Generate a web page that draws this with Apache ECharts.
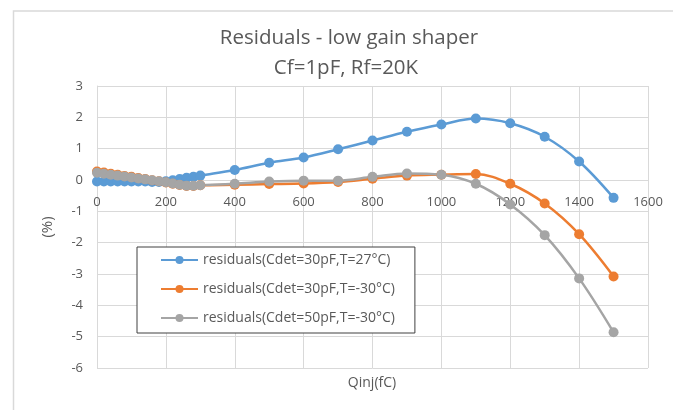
<!DOCTYPE html>
<html>
<head>
<meta charset="utf-8">
<script src="https://cdn.jsdelivr.net/npm/echarts@6/dist/echarts.min.js"></script>
<style>
  html, body { margin: 0; padding: 0; background: #fff; }
  #chart { width: 673px; height: 410px; }
</style>
</head>
<body>
<div id="chart"></div>
<script>
// Injected charge (fC)
const qinj = [0, 20, 40, 60, 80, 100, 120, 140, 160, 180, 200, 220, 240, 260, 280, 300,
              400, 500, 600, 700, 800, 900, 1000, 1100, 1200, 1300, 1400, 1500];

// Residuals (%)
const cdet30T27 = [-0.05, -0.05, -0.05, -0.05, -0.05, -0.05, -0.05, -0.05, -0.06, -0.06, -0.04, -0.01, 0.03, 0.07, 0.10, 0.14,
                   0.32, 0.55, 0.72, 0.98, 1.26, 1.54, 1.77, 1.96, 1.81, 1.38, 0.59, -0.57];
const cdet30Tm30 = [0.27, 0.24, 0.20, 0.17, 0.13, 0.10, 0.06, 0.03, -0.01, -0.04, -0.08, -0.12, -0.16, -0.19, -0.19, -0.17,
                    -0.15, -0.13, -0.11, -0.06, 0.04, 0.14, 0.17, 0.19, -0.12, -0.75, -1.73, -3.08];
const cdet50Tm30 = [0.23, 0.20, 0.17, 0.14, 0.11, 0.08, 0.05, 0.02, -0.01, -0.04, -0.07, -0.11, -0.15, -0.18, -0.18, -0.17,
                    -0.12, -0.05, -0.02, -0.02, 0.10, 0.21, 0.17, -0.12, -0.78, -1.76, -3.14, -4.86];

const seriesNames = [
  'residuals(Cdet=30pF,T=27°C)',
  'residuals(Cdet=30pF,T=-30°C)',
  'residuals(Cdet=50pF,T=-30°C)'
];
const seriesColors = ['#5B9BD5', '#ED7D31', '#A5A5A5'];
const seriesValues = [cdet30T27, cdet30Tm30, cdet50Tm30];

const xTicks = { min: 0, max: 1600, interval: 200 };
const yTicks = { min: -6, max: 3, interval: 1 };

const font = '"Open Sans", "Noto Sans", sans-serif';
const textColor = '#595959';
const gridColor = '#D9D9D9';

const W = 673, H = 410;
const grid = { left: 97, right: 25, top: 86, bottom: 42 };
// the x axis sits on the y = 0 line: shift it up from the bottom edge of the plot
const plotHeight = H - grid.top - grid.bottom;
const xAxisOffset = -plotHeight * (0 - yTicks.min) / (yTicks.max - yTicks.min);

const chart = echarts.init(document.getElementById('chart'), null, { renderer: 'canvas' });

chart.setOption({
  backgroundColor: '#fff',
  animation: false,
  textStyle: { fontFamily: font },
  graphic: [
    // chart area frame
    {
      type: 'polyline',
      shape: { points: [[13.5, H], [13.5, 11], [W, 11]] },
      style: { stroke: gridColor, lineWidth: 1.5, fill: null },
      silent: true
    },
    {
      type: 'text',
      x: 349, y: 38,
      style: {
        text: 'Residuals - low gain shaper',
        fill: textColor, font: '20.5px ' + font,
        textAlign: 'center', textVerticalAlign: 'middle'
      }
    },
    {
      type: 'text',
      x: 346, y: 68,
      style: {
        text: 'Cf=1pF, Rf=20K',
        fill: textColor, font: '20.5px ' + font,
        textAlign: 'center', textVerticalAlign: 'middle'
      }
    },
    {
      type: 'text',
      x: 372, y: 383,
      style: {
        text: 'Qinj(fC)',
        fill: textColor, font: '14px ' + font,
        textAlign: 'center', textVerticalAlign: 'middle'
      }
    }
  ],
  grid: { left: grid.left, right: grid.right, top: grid.top, bottom: grid.bottom, containLabel: false },
  legend: {
    orient: 'vertical',
    left: 137, top: 247,
    width: 282,
    padding: [6, 20, 8, 23],
    itemWidth: 37, itemHeight: 10, itemGap: 15,
    backgroundColor: '#fff',
    borderColor: '#404040', borderWidth: 1,
    textStyle: { color: textColor, fontSize: 14, fontFamily: font },
    data: seriesNames
  },
  xAxis: {
    type: 'value',
    position: 'bottom',
    offset: xAxisOffset,
    min: xTicks.min, max: xTicks.max, interval: xTicks.interval,
    axisLine: { show: true, onZero: false, lineStyle: { color: gridColor, width: 1 } },
    axisTick: { show: false },
    axisLabel: { color: textColor, fontSize: 13, margin: 16, fontFamily: font, formatter: v => String(v) },
    splitLine: { show: true, lineStyle: { color: gridColor, width: 1 } }
  },
  yAxis: {
    type: 'value',
    min: yTicks.min, max: yTicks.max, interval: yTicks.interval,
    name: '(%)',
    nameLocation: 'middle',
    nameGap: 42,
    nameRotate: 90,
    nameTextStyle: { color: textColor, fontSize: 15, fontFamily: font },
    axisLine: { show: true, onZero: false, lineStyle: { color: gridColor, width: 1 } },
    axisTick: { show: false },
    axisLabel: { color: textColor, fontSize: 13, margin: 14, fontFamily: font },
    splitLine: { show: true, lineStyle: { color: gridColor, width: 1 } }
  },
  series: seriesValues.map((vals, i) => ({
    name: seriesNames[i],
    type: 'line',
    smooth: 0.35,
    symbol: 'circle',
    symbolSize: 10,
    color: seriesColors[i],
    lineStyle: { width: 2.5, color: seriesColors[i] },
    itemStyle: { color: seriesColors[i] },
    data: qinj.map((q, k) => [q, vals[k]])
  }))
});
</script>
</body>
</html>
